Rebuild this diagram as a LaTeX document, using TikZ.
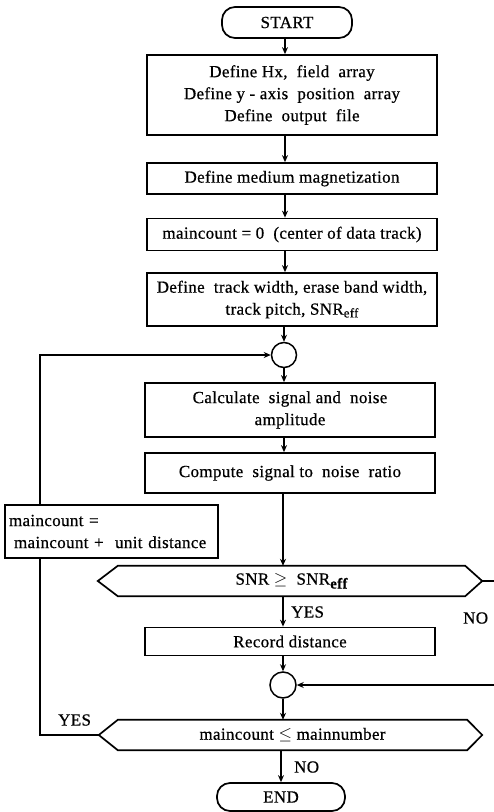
\documentclass[tikz,border=0pt]{standalone}
\usepackage{fontspec}
\setmainfont{Liberation Serif}[LetterSpace=2,FakeBold=0.6]
\usetikzlibrary{arrows.meta,calc}
\begin{document}
\begin{tikzpicture}[x=1pt,y=-1pt,
  box/.style={draw, line width=1.7pt, align=center, inner sep=0pt, font=\fontsize{17}{22}\selectfont},
  term/.style={draw, line width=1.7pt, rounded corners=13pt, inner sep=0pt, font=\fontsize{17}{22}\selectfont},
  joint/.style={circle, draw, line width=1.5pt, minimum size=25pt, inner sep=0pt},
  plain/.style={line width=1.4pt},
  conn/.style={line width=1.4pt, -{Stealth[length=7pt,width=6pt]}},
  lbl/.style={inner sep=0pt, font=\fontsize{17}{20}\selectfont},
  hexa/.style={line width=1.7pt}]
\useasboundingbox (0,0) rectangle (494,812);
\coordinate (col) at (285,0);
\coordinate (colb) at (283,0);
\coordinate (loopx) at (40,0);

\node[term, minimum width=130, minimum height=31] (start) at (287,22.5) {START};
\node[box, minimum width=290, minimum height=80] (b1) at (292,95)
  {Define Hx,\ \ field\ \ array\\Define y - axis\ \ position\ \ array\\Define\ \ output\ \ file};
\node[box, minimum width=290, minimum height=31] (b2) at (292,178.5) {Define medium magnetization};
\node[box, minimum width=290, minimum height=32] (b3) at (292,234.5) {maincount = 0\ \ (center of data track)};
\node[box, minimum width=290, minimum height=53] (b4) at (292,299.5)
  {Define\ \ track width, erase band width,\\track pitch, SNR\raisebox{-0.35ex}{\fontsize{13}{13}\selectfont eff}};
\node[joint] (c1) at (284,355) {};
\node[box, minimum width=290, minimum height=54] (b5) at (290,410) {Calculate\ \ signal and\ \ noise\\amplitude};
\node[box, minimum width=290, minimum height=40] (b6) at (290,473) {Compute\ \ signal to\ \ noise\ \ ratio};
\node[box, minimum width=213, minimum height=53, align=left, text width=205] (b7) at (111.5,531.5)
  {maincount =\\\hspace*{5pt}maincount + \ unit distance};

\node[minimum width=347, minimum height=30, inner sep=0pt, font=\fontsize{17}{20}\selectfont] (d1) at (291.5,581)
  {SNR $\geq$\ \ SNR\raisebox{-0.5ex}{\fontsize{15}{15}\selectfont\bfseries eff}};
\coordinate (d1l) at ($(d1.west)+(-20,0)$);
\coordinate (d1r) at ($(d1.east)+(17,0)$);
\draw[hexa] (d1l) -- (d1.north west) -- (d1.north east) -- (d1r) -- (d1.south east) -- (d1.south west) -- cycle;

\node[box, minimum width=290, minimum height=28] (b8) at (290,641.5) {Record distance};
\node[joint, minimum size=26pt] (c2) at (283,685) {};

\node[minimum width=349, minimum height=30, inner sep=0pt, font=\fontsize{17}{20}\selectfont] (d2) at (292.5,735)
  {maincount $\leq$ mainnumber};
\coordinate (d2l) at ($(d2.west)+(-19,0)$);
\coordinate (d2r) at ($(d2.east)+(15,0)$);
\draw[hexa] (d2l) -- (d2.north west) -- (d2.north east) -- (d2r) -- (d2.south east) -- (d2.south west) -- cycle;

\node[term, minimum width=128, minimum height=28] (end) at (281,797) {END};

% main connectors
\draw[conn] (start.south -| col) -- (b1.north -| col);
\draw[conn] (b1.south -| col) -- (b2.north -| col);
\draw[conn] (b2.south -| col) -- (b3.north -| col);
\draw[conn] (b3.south -| col) -- (b4.north -| col);
\draw[conn] (b4.south -| c1) -- (c1.north);
\draw[conn] (c1.south) -- (b5.north -| c1);
\draw[conn] (b5.south -| c1) -- (b6.north -| c1);
\draw[conn] (b6.south -| colb) -- (d1.north -| colb);
\draw[conn] (d1.south -| colb) -- (b8.north -| colb);
\draw[conn] (b8.south -| c2) -- (c2.north);
\draw[conn] (c2.south) -- (d2.north -| c2);
\draw[conn] (d2.south -| end) -- (end.north);

% loop back
\draw[plain] (d2l) -| (b7.south -| loopx);
\draw[conn] (b7.north -| loopx) |- (c1.west);
% NO branch (runs off the right edge)
\coordinate (rx) at (506,581);
\draw[plain] (d1r) -- (rx);
\draw[conn] (rx) |- (c2.east);

% labels
\node[lbl, anchor=west] (yes1) at (291,612) {YES};
\node[lbl, anchor=west] (no1) at (463,618) {NO};
\node[lbl, anchor=west] (yes2) at (58,720) {YES};
\node[lbl, anchor=west] (no2) at (294,767) {NO};
\end{tikzpicture}
\end{document}
